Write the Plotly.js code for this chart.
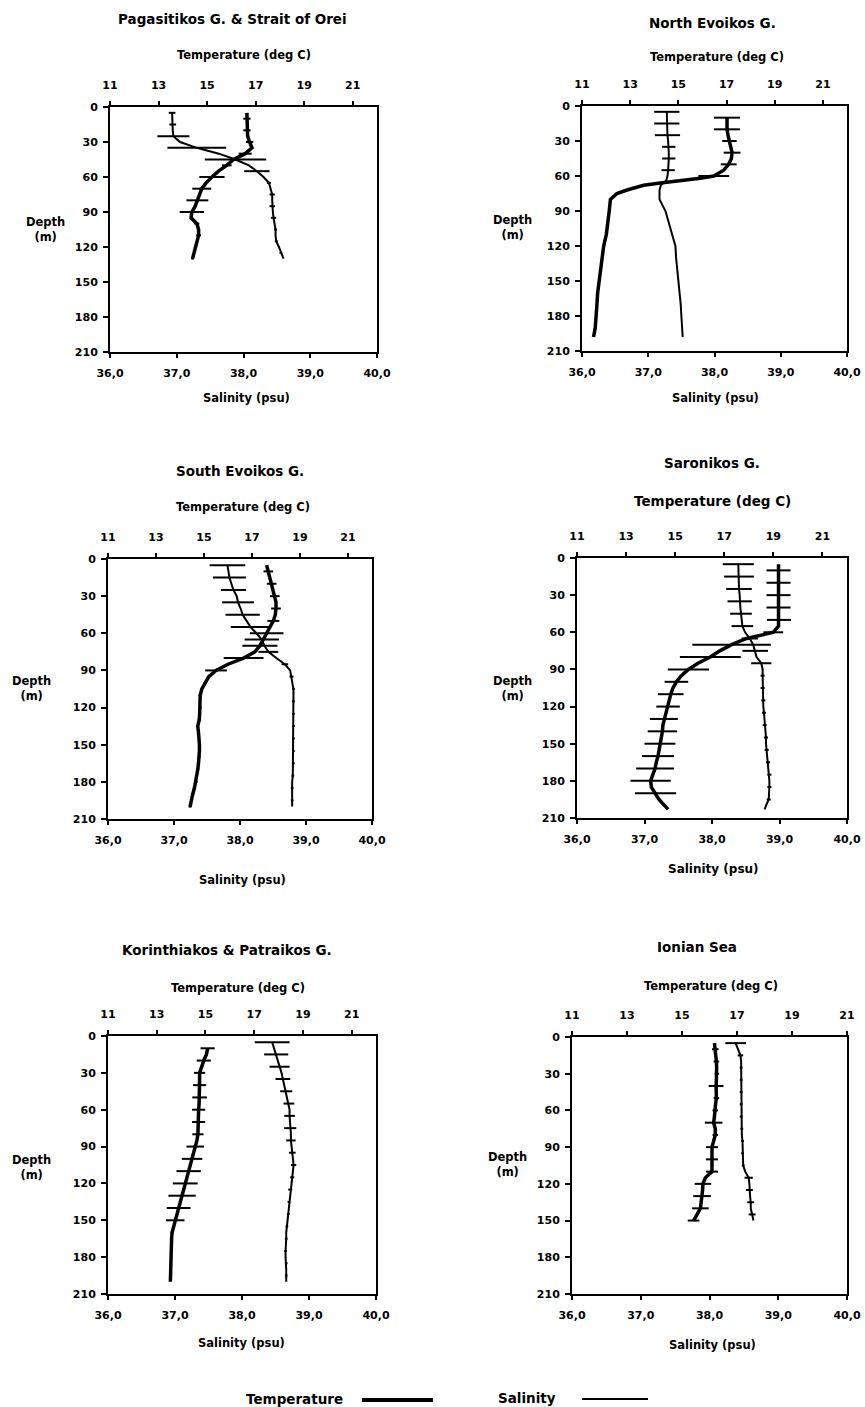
<!DOCTYPE html>
<html>
<head>
<meta charset="utf-8">
<script src="https://cdn.plot.ly/plotly-3.0.1.min.js"></script>
<style>html,body{margin:0;padding:0;background:#fff}#chart{width:865px;height:1407px}</style>
</head>
<body>
<div id="chart"></div>
<script>
// ---------- DATA ----------
const panelTitles = ['Pagasitikos G. & Strait of Orei','North Evoikos G.','South Evoikos G.','Saronikos G.','Korinthiakos & Patraikos G.','Ionian Sea'];
const tempTickVals = [11,13,15,17,19,21];
const salTickVals = [36,37,38,39,40];
const salTickText = ['36,0','37,0','38,0','39,0','40,0'];
const depthTickVals = [0,30,60,90,120,150,180,210];

// Panel 1: Pagasitikos G. & Strait of Orei
const depth1 = [5,10,15,20,25,30,35,40,45,50,55,60,65,70,75,80,85,90,95,100,105,110,115,120,125,130];
const temp1 = [16.64,16.64,16.64,16.64,16.67,16.75,16.85,16.57,16.09,15.81,15.47,15.2,14.96,14.78,14.69,14.6,14.51,14.37,14.34,14.58,14.65,14.65,14.58,14.51,14.44,14.4];
const tempErr1 = [0,0.15,0,0.15,0,0.15,0,0.27,0,0.2,0,0.52,0,0.39,0,0.45,0,0.5,0,0.1,0,0.1,0,0.05,0,0.05];
const sal1 = [36.93,36.93,36.94,36.94,36.95,37.05,37.3,37.63,37.88,38.08,38.2,38.3,38.38,38.41,38.43,38.43,38.43,38.44,38.45,38.47,38.48,38.48,38.49,38.53,38.56,38.6];
const salErr1 = [0.05,0,0.05,0,0.24,0,0.44,0,0.46,0,0.19,0,0.03,0,0.04,0,0.04,0,0.04,0,0.02,0,0.02,0,0.02,0];

// Panel 2: North Evoikos G.
const depth2 = [5,10,15,20,25,30,35,40,45,50,55,60,62,64,66,68,70,72,75,80,90,100,110,120,130,140,150,160,170,180,190,198];
const temp2 = [null,17.02,17.02,17.02,17.06,17.12,17.19,17.23,17.2,17.09,16.88,16.47,15.91,14.94,14.25,13.56,13.14,12.87,12.45,12.18,12.13,12.08,12.01,11.9,11.83,11.76,11.69,11.65,11.62,11.58,11.55,11.48];
const tempErr2 = [0,0.54,0,0.54,0,0.3,0,0.35,0,0.33,0,0.64,0,0,0,0,0,0,0,0,0,0,0,0,0,0,0,0,0,0,0,0];
const sal2 = [37.28,37.28,37.28,37.29,37.29,37.3,37.31,37.31,37.31,37.31,37.3,37.29,37.28,37.27,37.23,37.19,37.18,37.17,37.17,37.17,37.26,37.31,37.36,37.41,37.42,37.44,37.46,37.47,37.49,37.5,37.51,37.52];
const salErr2 = [0.19,0,0.19,0,0.19,0,0.1,0,0.1,0,0.1,0,0,0,0,0,0,0,0,0,0,0,0,0,0,0,0,0,0,0,0,0];

// Panel 3: South Evoikos G.
const depth3 = [5,10,15,20,25,30,35,40,45,50,55,60,65,70,75,80,85,90,95,100,105,110,115,120,125,130,135,140,145,150,155,160,165,170,175,180,185,190,195,200];
const temp3 = [17.61,17.68,17.75,17.82,17.89,17.95,18.0,18.0,17.97,17.89,17.77,17.61,17.47,17.33,17.12,16.65,16.0,15.5,15.2,15.05,14.91,14.84,14.84,14.84,14.82,14.8,14.74,14.77,14.8,14.81,14.81,14.8,14.77,14.74,14.7,14.67,14.6,14.53,14.46,14.42];
const tempErr3 = [0,0.2,0,0.2,0,0.2,0,0.2,0,0.25,0,0.7,0,0.73,0,0.83,0,0.45,0,0.06,0,0.06,0,0.06,0,0.06,0,0.06,0,0.06,0,0.06,0,0.06,0,0.06,0,0.06,0,0.06];
const sal3 = [37.81,37.82,37.84,37.87,37.9,37.95,37.97,38.01,38.04,38.1,38.16,38.25,38.33,38.37,38.43,38.55,38.68,38.76,38.78,38.8,38.81,38.81,38.81,38.81,38.81,38.81,38.81,38.81,38.81,38.81,38.81,38.81,38.81,38.8,38.8,38.79,38.79,38.79,38.79,38.79];
const salErr3 = [0.27,0,0.25,0,0.19,0,0.24,0,0.26,0,0.3,0,0.26,0,0.15,0,0.05,0,0.03,0,0.02,0,0.02,0,0.02,0,0.02,0,0.02,0,0.02,0,0.02,0,0.02,0,0.02,0,0.02,0];

// Panel 4: Saronikos G.
const depth4 = [5,10,15,20,25,30,35,40,45,50,55,60,65,70,75,80,85,90,95,100,105,110,115,120,125,130,135,140,145,150,155,160,165,170,175,180,185,190,195,200,203];
const temp4 = [19.21,19.21,19.21,19.21,19.21,19.21,19.21,19.21,19.22,19.23,19.21,19.0,17.91,17.3,16.82,16.43,15.93,15.54,15.25,15.05,14.91,14.82,14.75,14.71,14.63,14.54,14.5,14.48,14.44,14.38,14.34,14.3,14.23,14.18,14.09,14.0,14.03,14.2,14.34,14.57,14.71];
const tempErr4 = [0,0.49,0,0.49,0,0.49,0,0.49,0,0.49,0,0.4,0,1.6,0,1.24,0,0.84,0,0.48,0,0.52,0,0.48,0,0.57,0,0.6,0,0.63,0,0.65,0,0.77,0,0.82,0,0.84,0,0,0];
const sal4 = [38.39,38.39,38.4,38.4,38.4,38.41,38.41,38.42,38.43,38.44,38.45,38.49,38.56,38.61,38.64,38.66,38.73,38.75,38.75,38.75,38.75,38.75,38.76,38.76,38.77,38.78,38.78,38.79,38.8,38.8,38.81,38.81,38.83,38.84,38.85,38.85,38.85,38.85,38.84,38.8,38.78];
const salErr4 = [0.23,0,0.22,0,0.19,0,0.18,0,0.16,0,0.16,0,0.12,0,0.19,0,0.15,0,0.03,0,0.03,0,0.03,0,0.03,0,0.03,0,0.03,0,0.03,0,0.03,0,0.03,0,0.03,0,0.03,0,0];

// Panel 5: Korinthiakos & Patraikos G.
const depth5 = [5,10,15,20,25,30,35,40,45,50,55,60,65,70,75,80,85,90,95,100,105,110,115,120,125,130,135,140,145,150,155,160,165,170,175,180,185,190,195,200];
const temp5 = [null,15.09,15.04,14.93,14.83,14.76,14.76,14.76,14.76,14.76,14.74,14.72,14.72,14.72,14.71,14.69,14.65,14.58,14.52,14.45,14.38,14.31,14.24,14.17,14.11,14.04,13.97,13.9,13.83,13.76,13.69,13.63,13.61,13.6,13.6,13.59,13.58,13.56,13.56,13.56];
const tempErr5 = [0,0.29,0,0.29,0,0.23,0,0.27,0,0.3,0,0.27,0,0.27,0,0.23,0,0.36,0,0.42,0,0.5,0,0.51,0,0.56,0,0.49,0,0.38,0,0.06,0,0.04,0,0.04,0,0.04,0,0];
const sal5 = [38.45,38.48,38.51,38.54,38.56,38.59,38.61,38.63,38.66,38.68,38.7,38.71,38.71,38.72,38.72,38.73,38.73,38.74,38.75,38.76,38.77,38.76,38.75,38.73,38.72,38.71,38.7,38.7,38.69,38.68,38.67,38.66,38.66,38.65,38.65,38.65,38.66,38.66,38.66,38.66];
const salErr5 = [0.26,0,0.18,0,0.15,0,0.11,0,0.09,0,0.08,0,0.08,0,0.09,0,0.07,0,0.05,0,0.04,0,0.03,0,0.03,0,0.02,0,0.02,0,0.02,0,0.02,0,0.02,0,0.02,0,0.02,0];

// Panel 6: Ionian Sea
const depth6 = [5,10,15,20,25,30,35,40,45,50,55,60,65,70,75,80,85,90,95,100,105,110,115,120,125,130,135,140,145,150];
const temp6 = [16.18,16.21,16.24,16.25,16.26,16.27,16.25,16.24,16.25,16.25,16.22,16.21,16.18,16.15,16.21,16.21,16.15,16.09,16.09,16.09,16.09,16.09,15.85,15.76,15.75,15.73,15.69,15.67,15.55,15.42];
const tempErr6 = [0,0.12,0,0.1,0,0.08,0,0.27,0,0.1,0,0.1,0,0.32,0,0.1,0,0.22,0,0.22,0,0.22,0,0.3,0,0.32,0,0.3,0,0.21];
const sal6 = [38.38,38.42,38.45,38.46,38.46,38.46,38.46,38.46,38.46,38.46,38.46,38.46,38.46,38.46,38.47,38.47,38.48,38.48,38.48,38.48,38.49,38.52,38.57,38.58,38.58,38.59,38.6,38.6,38.62,38.64];
const salErr6 = [0.15,0,0.04,0,0.02,0,0.02,0,0.02,0,0.02,0,0.02,0,0.02,0,0.02,0,0.02,0,0.02,0,0.06,0,0.05,0,0.05,0,0.05,0];

const tempRanges = [[11,22],[11,22],[11,22],[11,22],[11,22],[11,21]];

// ---------- LAYOUT ----------
const W = 865, H = 1407;
const px = v => v / W;
const py = v => 1 - v / H;
const FONT = 'DejaVu Sans, Arial, sans-serif';

// plot frames in pixels [left, right, top, bottom]
const frames = [
  [110, 377, 107, 352],
  [582, 847, 106, 351],
  [108, 372, 559, 819],
  [577, 847, 558, 818],
  [108, 376, 1036, 1294],
  [572, 847, 1037, 1294]
];
// text placements [titleX,titleY, tempX,tempY, depthX,depthY, salX,salY, titleSize, tempSize, salSize]
const textPos = [
  [233, 19, 244, 55, 45, 229, 246, 398, 13.5, 11.5, 11.5],
  [712, 23, 717, 57, 512, 227, 715, 398, 13.5, 11.5, 11.5],
  [240, 471, 243, 507, 31, 688, 242, 880, 13.5, 11.5, 11.5],
  [712, 463, 712, 501, 512, 689, 713, 869, 13.5, 13.5, 12],
  [227, 950, 238, 988, 31, 1167, 241, 1343, 13.5, 11.5, 11.5],
  [697, 947, 711, 986, 507, 1164, 712, 1345, 13.5, 11.5, 11.5]
];

const depths = [depth1, depth2, depth3, depth4, depth5, depth6];
const temps = [temp1, temp2, temp3, temp4, temp5, temp6];
const tempErrs = [tempErr1, tempErr2, tempErr3, tempErr4, tempErr5, tempErr6];
const sals = [sal1, sal2, sal3, sal4, sal5, sal6];
const salErrs = [salErr1, salErr2, salErr3, salErr4, salErr5, salErr6];

const traces = [];
const layout = {
  width: W, height: H,
  margin: {l: 0, r: 0, t: 0, b: 0},
  paper_bgcolor: '#fff', plot_bgcolor: 'rgba(0,0,0,0)',
  showlegend: false,
  font: {family: FONT, color: '#000'},
  annotations: [],
  shapes: []
};

const tickFont = {family: FONT, size: 11, color: '#000', weight: 'bold'};

for (let i = 0; i < 6; i++) {
  const n = i + 1;
  const sx = 'x' + (2 * n - 1), tx = 'x' + (2 * n), yy = 'y' + n;
  const sKey = 'xaxis' + (2 * n - 1 === 1 ? '' : (2 * n - 1));
  const tKey = 'xaxis' + (2 * n);
  const yKey = 'yaxis' + (n === 1 ? '' : n);
  const [l, r, t, b] = frames[i];

  layout[sKey] = {
    domain: [px(l), px(r)], anchor: yy, side: 'bottom',
    range: [36, 40], tickvals: salTickVals, ticktext: salTickText,
    ticks: 'outside', ticklen: 4, tickwidth: 2, tickcolor: '#000',
    showline: true, linewidth: 2, linecolor: '#000',
    showgrid: false, zeroline: false, tickfont: tickFont, ticklabelstandoff: 6,
    fixedrange: true
  };
  layout[tKey] = {
    domain: [px(l), px(r)], anchor: yy, side: 'top', overlaying: sx,
    range: tempRanges[i], tickvals: tempTickVals,
    ticks: 'outside', ticklen: 4, tickwidth: 2, tickcolor: '#000',
    showline: true, linewidth: 2, linecolor: '#000',
    showgrid: false, zeroline: false, tickfont: tickFont, ticklabelstandoff: 8,
    fixedrange: true
  };
  layout[yKey] = {
    domain: [py(b), py(t)], anchor: sx,
    range: [210, 0], tickvals: depthTickVals,
    ticks: 'outside', ticklen: 5, tickwidth: 2, tickcolor: '#000',
    showline: true, mirror: true, linewidth: 2, linecolor: '#000',
    showgrid: false, zeroline: false, tickfont: tickFont, ticklabelstandoff: 3,
    fixedrange: true
  };

  // salinity (thin)
  traces.push({
    type: 'scatter', mode: 'lines', xaxis: sx, yaxis: yy,
    x: sals[i], y: depths[i], name: 'Salinity',
    line: {color: '#000', width: 2},
    error_x: {type: 'data', array: salErrs[i], visible: true, color: '#000', thickness: 2, width: 0},
    hoverinfo: 'skip'
  });
  // temperature (thick)
  traces.push({
    type: 'scatter', mode: 'lines', xaxis: tx, yaxis: yy,
    x: temps[i], y: depths[i], name: 'Temperature',
    line: {color: '#000', width: 3.5},
    error_x: {type: 'data', array: tempErrs[i], visible: true, color: '#000', thickness: 2, width: 0},
    hoverinfo: 'skip'
  });

  const tp = textPos[i];
  const ann = (x, y, text, size) => layout.annotations.push({
    xref: 'paper', yref: 'paper', x: px(x), y: py(y), xanchor: 'center', yanchor: 'middle',
    text: '<b>' + text + '</b>', showarrow: false, font: {family: FONT, size: size, color: '#000'}
  });
  ann(tp[0], tp[1], panelTitles[i], tp[8]);
  ann(tp[2], tp[3], 'Temperature (deg C)', tp[9]);
  ann(tp[4], tp[5], 'Depth<br>(m)', 11.5);
  ann(tp[6], tp[7], 'Salinity (psu)', tp[10]);
}

// legend at bottom
layout.annotations.push({xref:'paper', yref:'paper', x: px(294), y: py(1399), xanchor:'center', yanchor:'middle',
  text:'<b>Temperature</b>', showarrow:false, font:{family:FONT, size:13.5, color:'#000'}});
layout.annotations.push({xref:'paper', yref:'paper', x: px(527), y: py(1398), xanchor:'center', yanchor:'middle',
  text:'<b>Salinity</b>', showarrow:false, font:{family:FONT, size:13.5, color:'#000'}});
layout.shapes.push({type:'line', xref:'paper', yref:'paper', x0:px(362), x1:px(433), y0:py(1400), y1:py(1400), line:{color:'#000', width:4}});
layout.shapes.push({type:'line', xref:'paper', yref:'paper', x0:px(582), x1:px(648), y0:py(1399), y1:py(1399), line:{color:'#000', width:2}});

Plotly.newPlot('chart', traces, layout, {displayModeBar: false, staticPlot: true});
</script>
</body>
</html>
